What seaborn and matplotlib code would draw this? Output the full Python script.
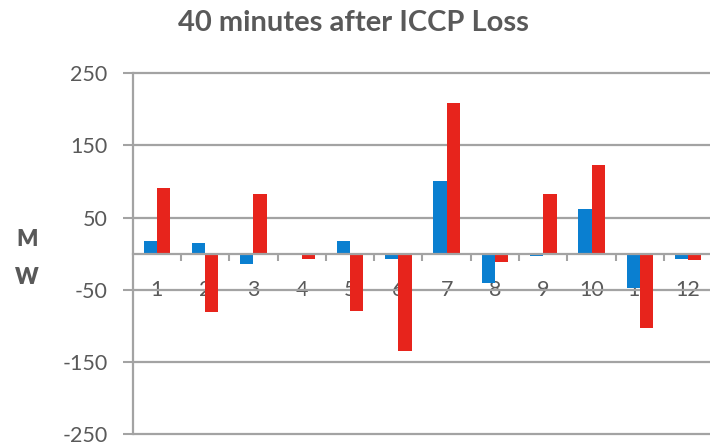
import matplotlib
matplotlib.use("Agg")
import matplotlib.pyplot as plt
import seaborn as sns
import pandas as pd
from matplotlib.ticker import FixedLocator

categories = ["1", "2", "3", "4", "5", "6", "7", "8", "9", "10", "11", "12"]
series_a = [17, 15, -14, 0, 17, -7, 101, -41, -3, 62, -47, -7]
series_b = [91, -81, 82, -7, -80, -135, 209, -11, 82, 123, -103, -9]
y_ticks = [-250, -150, -50, 50, 150, 250]
title = "40 minutes after ICCP Loss"
y_label = "M\nW"

df = pd.DataFrame({
    "cat": categories * 2,
    "value": series_a + series_b,
    "series": ["Series A"] * len(categories) + ["Series B"] * len(categories),
})

sns.set_style("white")
plt.rcParams["font.family"] = ["Lato", "DejaVu Sans"]

GRID = "#a3a3a3"
TEXT = "#595959"

fig = plt.figure(figsize=(7.10, 4.46), dpi=100)
W, H = 710, 446
left_px, right_px, top_px, bot_px = 132.7, 710, 73.3, 434
ax = fig.add_axes([left_px / W, (H - bot_px) / H, (right_px - left_px) / W, (bot_px - top_px) / H])

sns.barplot(data=df, x="cat", y="value", hue="series", order=categories,
            palette=["#0a7fd0", "#e7241c"], saturation=1, width=0.55, linewidth=0,
            legend=False, ax=ax, zorder=3)

cat_w = 48.3
ax.set_xlim(-0.5, -0.5 + (right_px - left_px) / cat_w)
ax.set_ylim(-250, 250)

ax.set_yticks(y_ticks)
ax.set_yticklabels([str(v) for v in y_ticks])
ax.yaxis.grid(True, color=GRID, linewidth=1.6, zorder=1)
for gl in ax.get_ygridlines():
    gl.set_clip_on(False)
ax.xaxis.grid(False)

ax.tick_params(axis="y", which="major", length=7.2, width=1.5, color=GRID,
               labelsize=15.5, labelcolor=TEXT, pad=11, left=True)

ax.spines["top"].set_visible(False)
ax.spines["right"].set_visible(False)
ax.spines["left"].set_color(GRID)
ax.spines["left"].set_linewidth(1.6)
ax.spines["bottom"].set_position(("data", 0))
ax.spines["bottom"].set_color(GRID)
ax.spines["bottom"].set_linewidth(1.6)
ax.spines["bottom"].set_zorder(4)

ax.xaxis.set_minor_locator(FixedLocator([i + 0.5 for i in range(len(categories) - 1)]))
ax.tick_params(axis="x", which="major", length=0, labelsize=15.5, labelcolor=TEXT, pad=19, bottom=True)
ax.tick_params(axis="x", which="minor", length=5, width=1.5, color=GRID, direction="out", bottom=True)

ax.set_xlabel("")
ax.set_ylabel(y_label, rotation=0, fontsize=16, fontweight="heavy", color=TEXT,
              linespacing=1.95, va="center", ha="center")
ax.yaxis.set_label_coords((27 - left_px) / (right_px - left_px), (bot_px - 258.5) / (bot_px - top_px))

fig.text(353 / W, (H - 31) / H, title, ha="center", va="baseline",
         fontsize=21, fontweight="bold", color=TEXT)

fig.savefig("out.png", dpi=100)
